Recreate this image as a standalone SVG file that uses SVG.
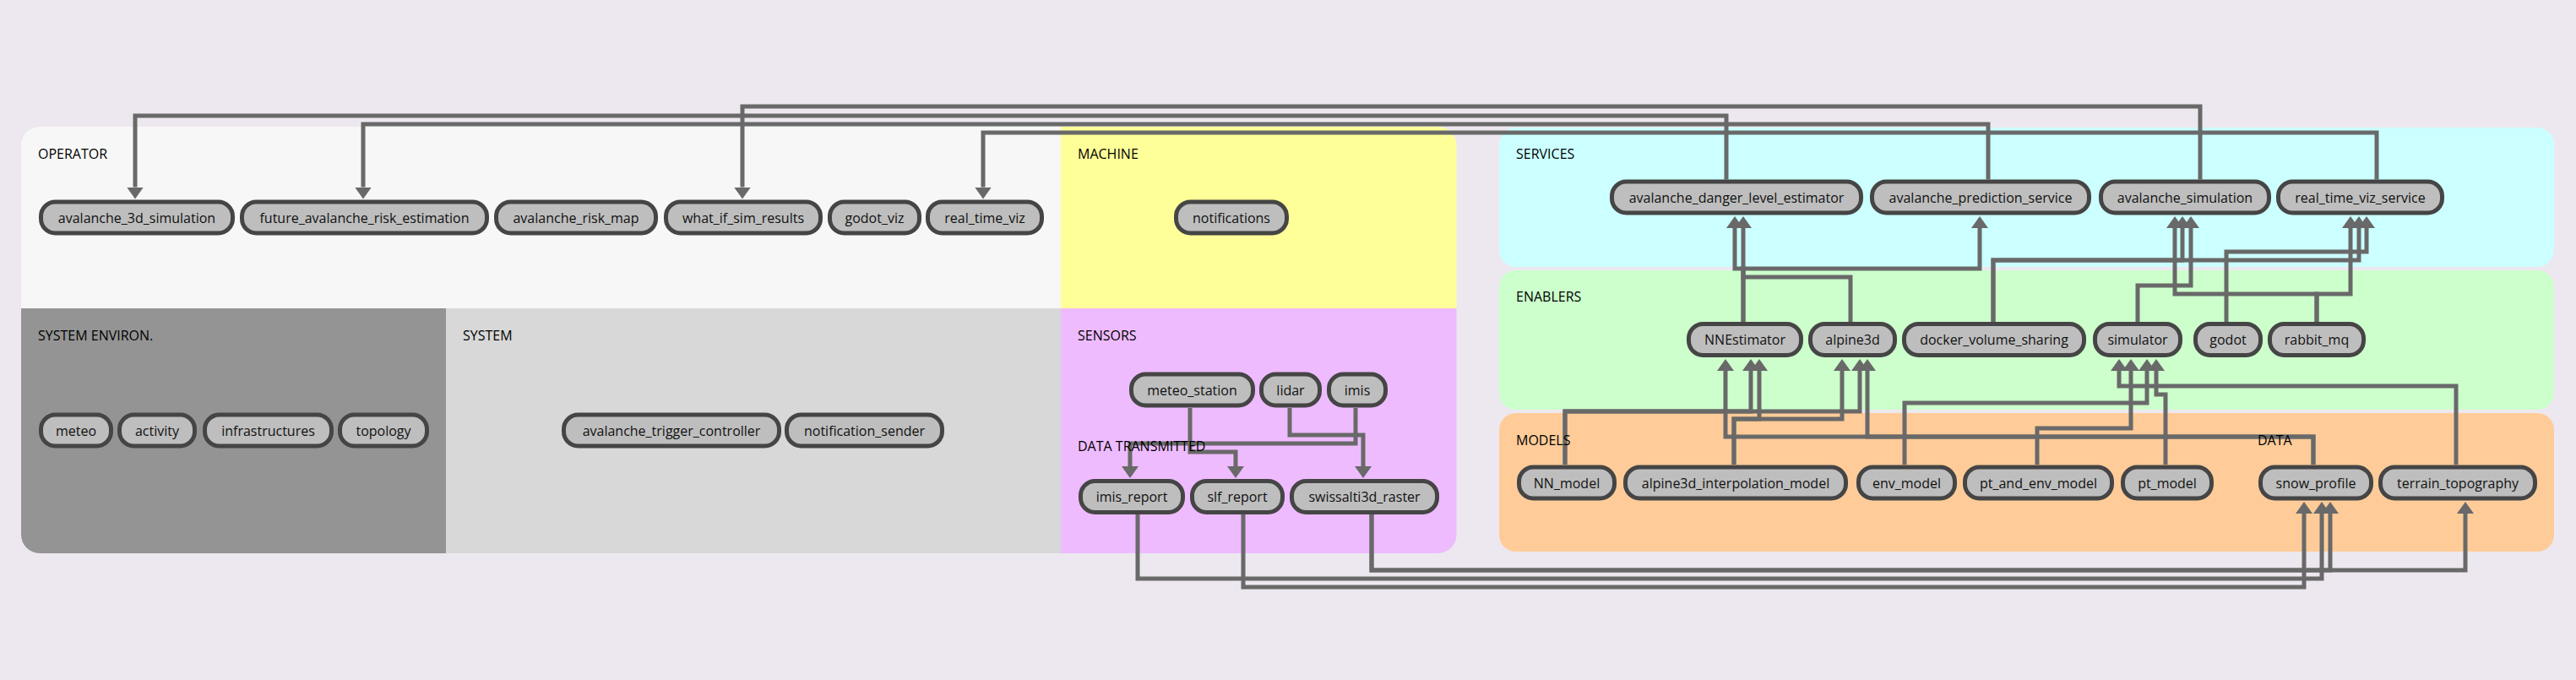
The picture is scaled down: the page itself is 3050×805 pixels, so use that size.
<svg xmlns="http://www.w3.org/2000/svg" width="3050" height="805" viewBox="0 0 3050 805">
<style>
.lbl{font-family:"Open Sans","Liberation Sans",sans-serif;font-size:16px;fill:#000}
.nt{font-family:"Open Sans","Liberation Sans",sans-serif;font-size:16px;fill:#111;text-anchor:middle}
.n rect{fill:#bebebe;stroke:#454545;stroke-width:5}
.c path{fill:none;stroke:#696969;stroke-width:5;stroke-linejoin:miter;marker-end:url(#ah)}
.c path.na{marker-end:none}
</style>
<defs>
<marker id="ah" viewBox="0 0 14 20" refX="0" refY="10" markerWidth="14" markerHeight="20" markerUnits="userSpaceOnUse" orient="auto">
<path d="M0,0 L14,10 L0,20 z" fill="#696969"/>
</marker>
<clipPath id="leftclip"><rect x="25" y="150" width="1699.5" height="505" rx="22"/></clipPath>
</defs>
<rect width="3050" height="805" fill="#ede8ef"/>
<g id="panels">
<g clip-path="url(#leftclip)">
<rect x="25" y="150" width="1231" height="215" fill="#f7f7f7"/>
<rect x="1256" y="150" width="469" height="215" fill="#ffff99"/>
<rect x="25" y="365" width="503" height="290" fill="#949494"/>
<rect x="528" y="365" width="728" height="290" fill="#d8d8d8"/>
<rect x="1256" y="365" width="469" height="290" fill="#eebbff"/>
</g>
<rect x="1775" y="151" width="1249" height="165" rx="20" fill="#ccffff"/>
<rect x="1775" y="320" width="1249" height="165" rx="20" fill="#ccffcc"/>
<rect x="1775" y="489" width="1249" height="164" rx="20" fill="#ffcc99"/>
</g>
<g id="connectors" class="c">
<path d="M2605,212.5 V126 H879 V221.5"/>
<path d="M2044,212.5 V137 H160 V221.5"/>
<path d="M2354,212.5 V147 H430 V221.5"/>
<path d="M2814,212.5 V157 H1164 V221.5"/>
<path d="M2064,381 V318 H2344 V270"/>
<path d="M2064,381 V318 H2054 V270"/>
<path d="M2191,381 V328 H2064 V270"/>
<path d="M2360,381 V308 H2584 V270"/>
<path d="M2360,381 V308 H2793 V270"/>
<path d="M2636,381 V298 H2802 V270"/>
<path d="M2743,381 V348 H2575 V270"/>
<path d="M2743,381 V348 H2783 V270"/>
<path d="M2531,381 V338 H2594 V270"/>
<path d="M1853,550 V487 H2073 V439"/>
<path d="M1853,550 V487 H2202 V439"/>
<path d="M2053,550 V496 H2083 V439"/>
<path d="M2053,550 V496 H2181 V439"/>
<path d="M2739,550 V517 H2043 V439"/>
<path d="M2739,550 V517 H2211 V439"/>
<path d="M2255,550 V477 H2542 V439"/>
<path d="M2412,550 V507 H2523 V439"/>
<path d="M2564,550 V467 H2553 V439"/>
<path d="M2908,550 V457 H2509 V439"/>
<path d="M1409,483 V535 H1463 V552"/>
<path d="M1605,483 V525 H1338 V552"/>
<path d="M1527,483 V515 H1614 V552"/>
<path d="M1624,609 V675 H2919 V608"/>
<path d="M1624,609 V675 H2759 V608"/>
<path d="M1347,609 V685 H2749 V608"/>
<path d="M1472,609 V695 H2728 V608"/>
</g>
<g id="labels">
<text class="lbl" x="45" y="188">OPERATOR</text>
<text class="lbl" x="1276" y="188">MACHINE</text>
<text class="lbl" x="45" y="403">SYSTEM ENVIRON.</text>
<text class="lbl" x="548" y="403">SYSTEM</text>
<text class="lbl" x="1276" y="403">SENSORS</text>
<text class="lbl" x="1276" y="534">DATA TRANSMITTED</text>
<text class="lbl" x="1795" y="188">SERVICES</text>
<text class="lbl" x="1795" y="357">ENABLERS</text>
<text class="lbl" x="1795" y="527">MODELS</text>
<text class="lbl" x="2673" y="527">DATA</text>
</g>
<g id="n-avalanche_3d_simulation" class="n"><rect x="48.5" y="239" width="227" height="37" rx="17"/><text class="nt" x="162" y="263.5">avalanche_3d_simulation</text></g>
<g id="n-future_avalanche_risk_estimation" class="n"><rect x="286.5" y="239" width="290" height="37" rx="17"/><text class="nt" x="431.5" y="263.5">future_avalanche_risk_estimation</text></g>
<g id="n-avalanche_risk_map" class="n"><rect x="587.5" y="239" width="189" height="37" rx="17"/><text class="nt" x="682" y="263.5">avalanche_risk_map</text></g>
<g id="n-what_if_sim_results" class="n"><rect x="788.5" y="239" width="183" height="37" rx="17"/><text class="nt" x="880" y="263.5">what_if_sim_results</text></g>
<g id="n-godot_viz" class="n"><rect x="982.5" y="239" width="106" height="37" rx="17"/><text class="nt" x="1035.5" y="263.5">godot_viz</text></g>
<g id="n-real_time_viz" class="n"><rect x="1098.5" y="239" width="135" height="37" rx="17"/><text class="nt" x="1166" y="263.5">real_time_viz</text></g>
<g id="n-notifications" class="n"><rect x="1392.5" y="239" width="131" height="37" rx="17"/><text class="nt" x="1458" y="263.5">notifications</text></g>
<g id="n-meteo" class="n"><rect x="48.5" y="491" width="83" height="37" rx="17"/><text class="nt" x="90" y="515.5">meteo</text></g>
<g id="n-activity" class="n"><rect x="141.5" y="491" width="89" height="37" rx="17"/><text class="nt" x="186" y="515.5">activity</text></g>
<g id="n-infrastructures" class="n"><rect x="242.5" y="491" width="150" height="37" rx="17"/><text class="nt" x="317.5" y="515.5">infrastructures</text></g>
<g id="n-topology" class="n"><rect x="402.5" y="491" width="103" height="37" rx="17"/><text class="nt" x="454" y="515.5">topology</text></g>
<g id="n-avalanche_trigger_controller" class="n"><rect x="667.5" y="491" width="255" height="37" rx="17"/><text class="nt" x="795" y="515.5">avalanche_trigger_controller</text></g>
<g id="n-notification_sender" class="n"><rect x="931.5" y="491" width="184" height="37" rx="17"/><text class="nt" x="1023.5" y="515.5">notification_sender</text></g>
<g id="n-meteo_station" class="n"><rect x="1339.5" y="443" width="144" height="37" rx="17"/><text class="nt" x="1411.5" y="467.5">meteo_station</text></g>
<g id="n-lidar" class="n"><rect x="1493.5" y="443" width="69" height="37" rx="17"/><text class="nt" x="1528" y="467.5">lidar</text></g>
<g id="n-imis" class="n"><rect x="1573.5" y="443" width="67" height="37" rx="17"/><text class="nt" x="1607" y="467.5">imis</text></g>
<g id="n-imis_report" class="n"><rect x="1279.5" y="569.5" width="121" height="37" rx="17"/><text class="nt" x="1340" y="594">imis_report</text></g>
<g id="n-slf_report" class="n"><rect x="1411.5" y="569.5" width="107" height="37" rx="17"/><text class="nt" x="1465" y="594">slf_report</text></g>
<g id="n-swissalti3d_raster" class="n"><rect x="1529.5" y="569.5" width="172" height="37" rx="17"/><text class="nt" x="1615.5" y="594">swissalti3d_raster</text></g>
<g id="n-avalanche_danger_level_estimator" class="n"><rect x="1908.5" y="215" width="295" height="37" rx="17"/><text class="nt" x="2056" y="239.5">avalanche_danger_level_estimator</text></g>
<g id="n-avalanche_prediction_service" class="n"><rect x="2216.5" y="215" width="257" height="37" rx="17"/><text class="nt" x="2345" y="239.5">avalanche_prediction_service</text></g>
<g id="n-avalanche_simulation" class="n"><rect x="2487.5" y="215" width="199" height="37" rx="17"/><text class="nt" x="2587" y="239.5">avalanche_simulation</text></g>
<g id="n-real_time_viz_service" class="n"><rect x="2697.5" y="215" width="194" height="37" rx="17"/><text class="nt" x="2794.5" y="239.5">real_time_viz_service</text></g>
<g id="n-NNEstimator" class="n"><rect x="1999.5" y="383.5" width="133" height="37" rx="17"/><text class="nt" x="2066" y="408">NNEstimator</text></g>
<g id="n-alpine3d" class="n"><rect x="2143.5" y="383.5" width="100" height="37" rx="17"/><text class="nt" x="2193.5" y="408">alpine3d</text></g>
<g id="n-docker_volume_sharing" class="n"><rect x="2254.5" y="383.5" width="213" height="37" rx="17"/><text class="nt" x="2361" y="408">docker_volume_sharing</text></g>
<g id="n-simulator" class="n"><rect x="2480.5" y="383.5" width="101" height="37" rx="17"/><text class="nt" x="2531" y="408">simulator</text></g>
<g id="n-godot" class="n"><rect x="2599.5" y="383.5" width="77" height="37" rx="17"/><text class="nt" x="2638" y="408">godot</text></g>
<g id="n-rabbit_mq" class="n"><rect x="2687.5" y="383.5" width="111" height="37" rx="17"/><text class="nt" x="2743" y="408">rabbit_mq</text></g>
<g id="n-NN_model" class="n"><rect x="1798.5" y="553" width="113" height="37" rx="17"/><text class="nt" x="1855" y="577.5">NN_model</text></g>
<g id="n-alpine3d_interpolation_model" class="n"><rect x="1924.5" y="553" width="261" height="37" rx="17"/><text class="nt" x="2055" y="577.5">alpine3d_interpolation_model</text></g>
<g id="n-env_model" class="n"><rect x="2200.5" y="553" width="114" height="37" rx="17"/><text class="nt" x="2257.5" y="577.5">env_model</text></g>
<g id="n-pt_and_env_model" class="n"><rect x="2326.5" y="553" width="174" height="37" rx="17"/><text class="nt" x="2413.5" y="577.5">pt_and_env_model</text></g>
<g id="n-pt_model" class="n"><rect x="2513.5" y="553" width="105" height="37" rx="17"/><text class="nt" x="2566" y="577.5">pt_model</text></g>
<g id="n-snow_profile" class="n"><rect x="2676.5" y="553" width="131" height="37" rx="17"/><text class="nt" x="2742" y="577.5">snow_profile</text></g>
<g id="n-terrain_topography" class="n"><rect x="2818.5" y="553" width="183" height="37" rx="17"/><text class="nt" x="2910" y="577.5">terrain_topography</text></g>
</svg>
